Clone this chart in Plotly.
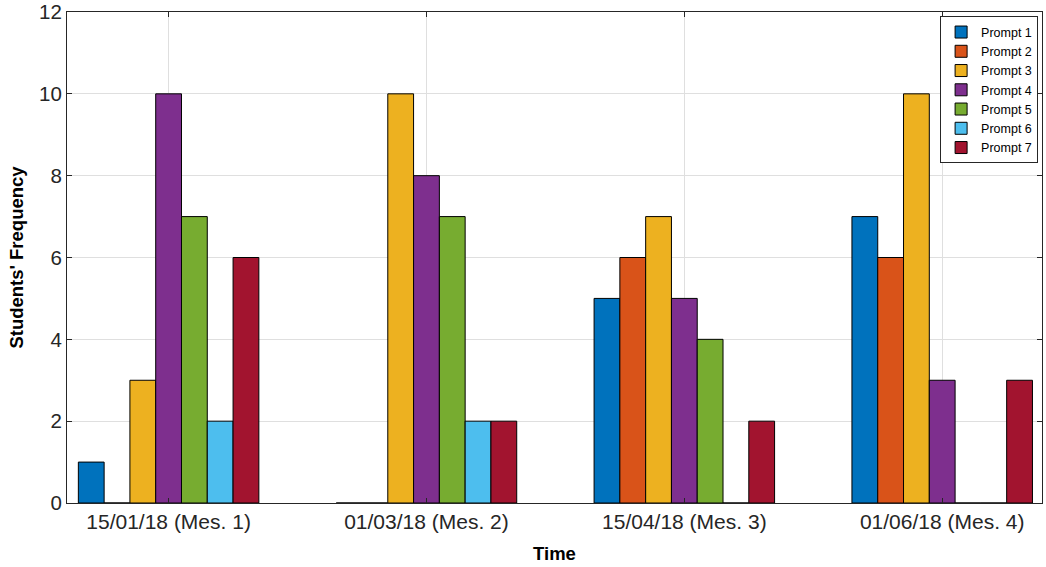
import plotly.graph_objects as go

categories = ["15/01/18 (Mes. 1)", "01/03/18 (Mes. 2)", "15/04/18 (Mes. 3)", "01/06/18 (Mes. 4)"]
series_names = ["Prompt 1", "Prompt 2", "Prompt 3", "Prompt 4", "Prompt 5", "Prompt 6", "Prompt 7"]
prompt1 = [1, 0, 5, 7]
prompt2 = [0, 0, 6, 6]
prompt3 = [3, 10, 7, 10]
prompt4 = [10, 8, 5, 3]
prompt5 = [7, 7, 4, 0]
prompt6 = [2, 2, 0, 0]
prompt7 = [6, 2, 2, 3]
series_values = [prompt1, prompt2, prompt3, prompt4, prompt5, prompt6, prompt7]
colors = ["#0072BD", "#D95319", "#EDB120", "#7E2F8E", "#77AC30", "#4DBEEE", "#A2142F"]
y_ticks = [0, 2, 4, 6, 8, 10, 12]

xpos = list(range(1, len(categories) + 1))

fig = go.Figure()
for name, vals, col in zip(series_names, series_values, colors):
    fig.add_trace(go.Bar(
        x=xpos, y=vals, name=name,
        marker=dict(color=col, line=dict(color="#000000", width=1)),
    ))

font_family = "Liberation Sans, Arial, sans-serif"
fig.update_layout(
    width=1046, height=567,
    barmode="group", bargap=0.3, bargroupgap=0,
    plot_bgcolor="white", paper_bgcolor="white",
    margin=dict(l=67, r=4, t=12, b=64, autoexpand=False),
    font=dict(family=font_family, color="#262626"),
    legend=dict(
        x=0.996, y=0.991, xanchor="right", yanchor="top",
        bordercolor="#262626", borderwidth=1, bgcolor="white",
        font=dict(size=12.5, color="#000000"),
        tracegroupgap=0,
    ),
    xaxis=dict(
        range=[0.606, 4.387],
        tickmode="array", tickvals=xpos, ticktext=categories,
        tickfont=dict(size=21, color="#262626"),
        showgrid=True, gridcolor="#dfdfdf", gridwidth=1,
        ticks="inside", ticklen=5, tickcolor="#262626",
        showline=True, linecolor="#262626", linewidth=1, mirror="ticks",
        zeroline=False, automargin=False,
        title=dict(text="<b>Time</b>", font=dict(size=18.5, color="#000000"), standoff=14),
    ),
    yaxis=dict(
        range=[0, 12],
        tickmode="array", tickvals=y_ticks, ticktext=[str(t) for t in y_ticks],
        tickfont=dict(size=20.5, color="#262626"),
        showgrid=True, gridcolor="#dfdfdf", gridwidth=1,
        ticks="inside", ticklen=5, tickcolor="#262626",
        showline=True, linecolor="#262626", linewidth=1, mirror="ticks",
        zeroline=False, automargin=False,
        title=dict(text="<b>Students' Frequency</b>", font=dict(size=18.5, color="#000000"), standoff=10),
    ),
)

fig.write_html("out.html", config={"displayModeBar": False},
               post_script="document.body.style.margin='0';")
